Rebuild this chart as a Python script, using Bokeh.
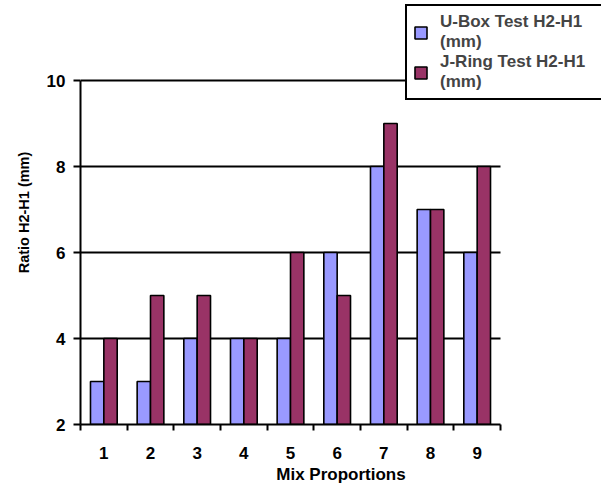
from bokeh.plotting import figure
from bokeh.models import (ColumnDataSource, FixedTicker, Legend, LegendItem,
                          Range1d)
from bokeh.embed import file_html
from bokeh.resources import INLINE

# Mix proportion numbers and measured H2-H1 ratios (mm)
mixes = [1, 2, 3, 4, 5, 6, 7, 8, 9]
ubox = [3, 3, 4, 4, 4, 6, 8, 7, 6]
jring = [4, 5, 5, 4, 6, 5, 9, 7, 8]
y_ticks = [2, 4, 6, 8, 10]

FONT = "Liberation Sans"
BAR_W = 0.286

# The frame is stretched up and right so the legend box (which sits partly
# outside the plotted area) is not clipped; axes and grid are bounded instead.
W, H = 603, 494
LEFT, RIGHT, TOP, BOTTOM = 80, 2, 0, 70
AREA_W, AREA_H = 420, 344          # pixel size of the bounded chart area
frame_w = W - LEFT - RIGHT
frame_h = H - TOP - BOTTOM
x_lo, x_hi = mixes[0] - 0.5, mixes[-1] + 0.5
y_lo, y_hi = y_ticks[0], y_ticks[-1]
x_end = x_lo + (x_hi - x_lo) * frame_w / AREA_W
y_end = y_lo + (y_hi - y_lo) * frame_h / AREA_H

src = ColumnDataSource(data=dict(
    x_u=[m - BAR_W / 2 for m in mixes],
    x_j=[m + BAR_W / 2 for m in mixes],
    ubox=ubox,
    jring=jring,
))

p = figure(width=W, height=H, output_backend="svg", toolbar_location=None,
           x_range=Range1d(x_lo, x_end), y_range=Range1d(y_lo, y_end),
           min_border_left=LEFT, min_border_right=RIGHT,
           min_border_top=TOP, min_border_bottom=BOTTOM)
p.outline_line_color = None
p.background_fill_color = "white"
p.border_fill_color = "white"

r_u = p.vbar(x="x_u", top="ubox", bottom=y_lo, width=BAR_W, source=src,
             fill_color="#9999FF", line_color="black", line_width=1.6)
r_j = p.vbar(x="x_j", top="jring", bottom=y_lo, width=BAR_W, source=src,
             fill_color="#993366", line_color="black", line_width=1.6)

# axes
xa = p.xaxis[0]
xa.bounds = (x_lo, x_hi)
xa.ticker = FixedTicker(ticks=mixes, minor_ticks=[m + 0.5 for m in [0] + mixes])
xa.major_tick_out = 0
xa.major_tick_in = 0
xa.minor_tick_out = 6
xa.minor_tick_in = 0
xa.minor_tick_line_color = "black"
xa.minor_tick_line_width = 2
xa.axis_line_width = 2
xa.axis_line_color = "black"
xa.major_label_standoff = 16
xa.axis_label = "Mix Proportions"
xa.axis_label_standoff = 3
xa.axis_label_text_font_size = "17px"

ya = p.yaxis[0]
ya.bounds = (y_lo, y_hi)
ya.ticker = FixedTicker(ticks=y_ticks)
ya.minor_tick_line_color = None
ya.major_tick_out = 7
ya.major_tick_in = 0
ya.major_tick_line_width = 2
ya.major_tick_line_color = "black"
ya.axis_line_width = 2
ya.axis_line_color = "black"
ya.major_label_standoff = 8
ya.axis_label = "Ratio H2-H1 (mm)"
ya.axis_label_standoff = 12
ya.axis_label_text_font_size = "14.5px"

for ax in (xa, ya):
    ax.major_label_text_font = FONT
    ax.major_label_text_font_style = "bold"
    ax.major_label_text_font_size = "17px"
    ax.major_label_text_color = "black"
    ax.axis_label_text_font = FONT
    ax.axis_label_text_font_style = "bold"
    ax.axis_label_text_color = "black"

p.xgrid.grid_line_color = None
p.ygrid.ticker = FixedTicker(ticks=y_ticks[1:])
p.ygrid.bounds = (y_lo, y_hi)
p.ygrid.cross_bounds = (x_lo, x_hi)
p.ygrid.grid_line_color = "black"
p.ygrid.grid_line_width = 2
p.ygrid.grid_line_alpha = 1.0

legend = Legend(items=[
    LegendItem(label="U-Box Test H2-H1\n(mm)", renderers=[r_u]),
    LegendItem(label="J-Ring Test H2-H1\n(mm)", renderers=[r_j]),
], location=(325, 324))
legend.border_line_color = "black"
legend.border_line_width = 2
legend.border_line_alpha = 1.0
legend.background_fill_color = "white"
legend.background_fill_alpha = 1.0
legend.label_text_font = FONT
legend.label_text_font_style = "bold"
legend.label_text_font_size = "17px"
legend.label_text_line_height = 1.25
legend.label_width = 155
legend.glyph_width = 15
legend.glyph_height = 15
legend.label_standoff = 12
legend.padding = 6
legend.spacing = 0
legend.margin = 0
p.add_layout(legend, "center")

open("out.html", "w").write(file_html(p, INLINE))
